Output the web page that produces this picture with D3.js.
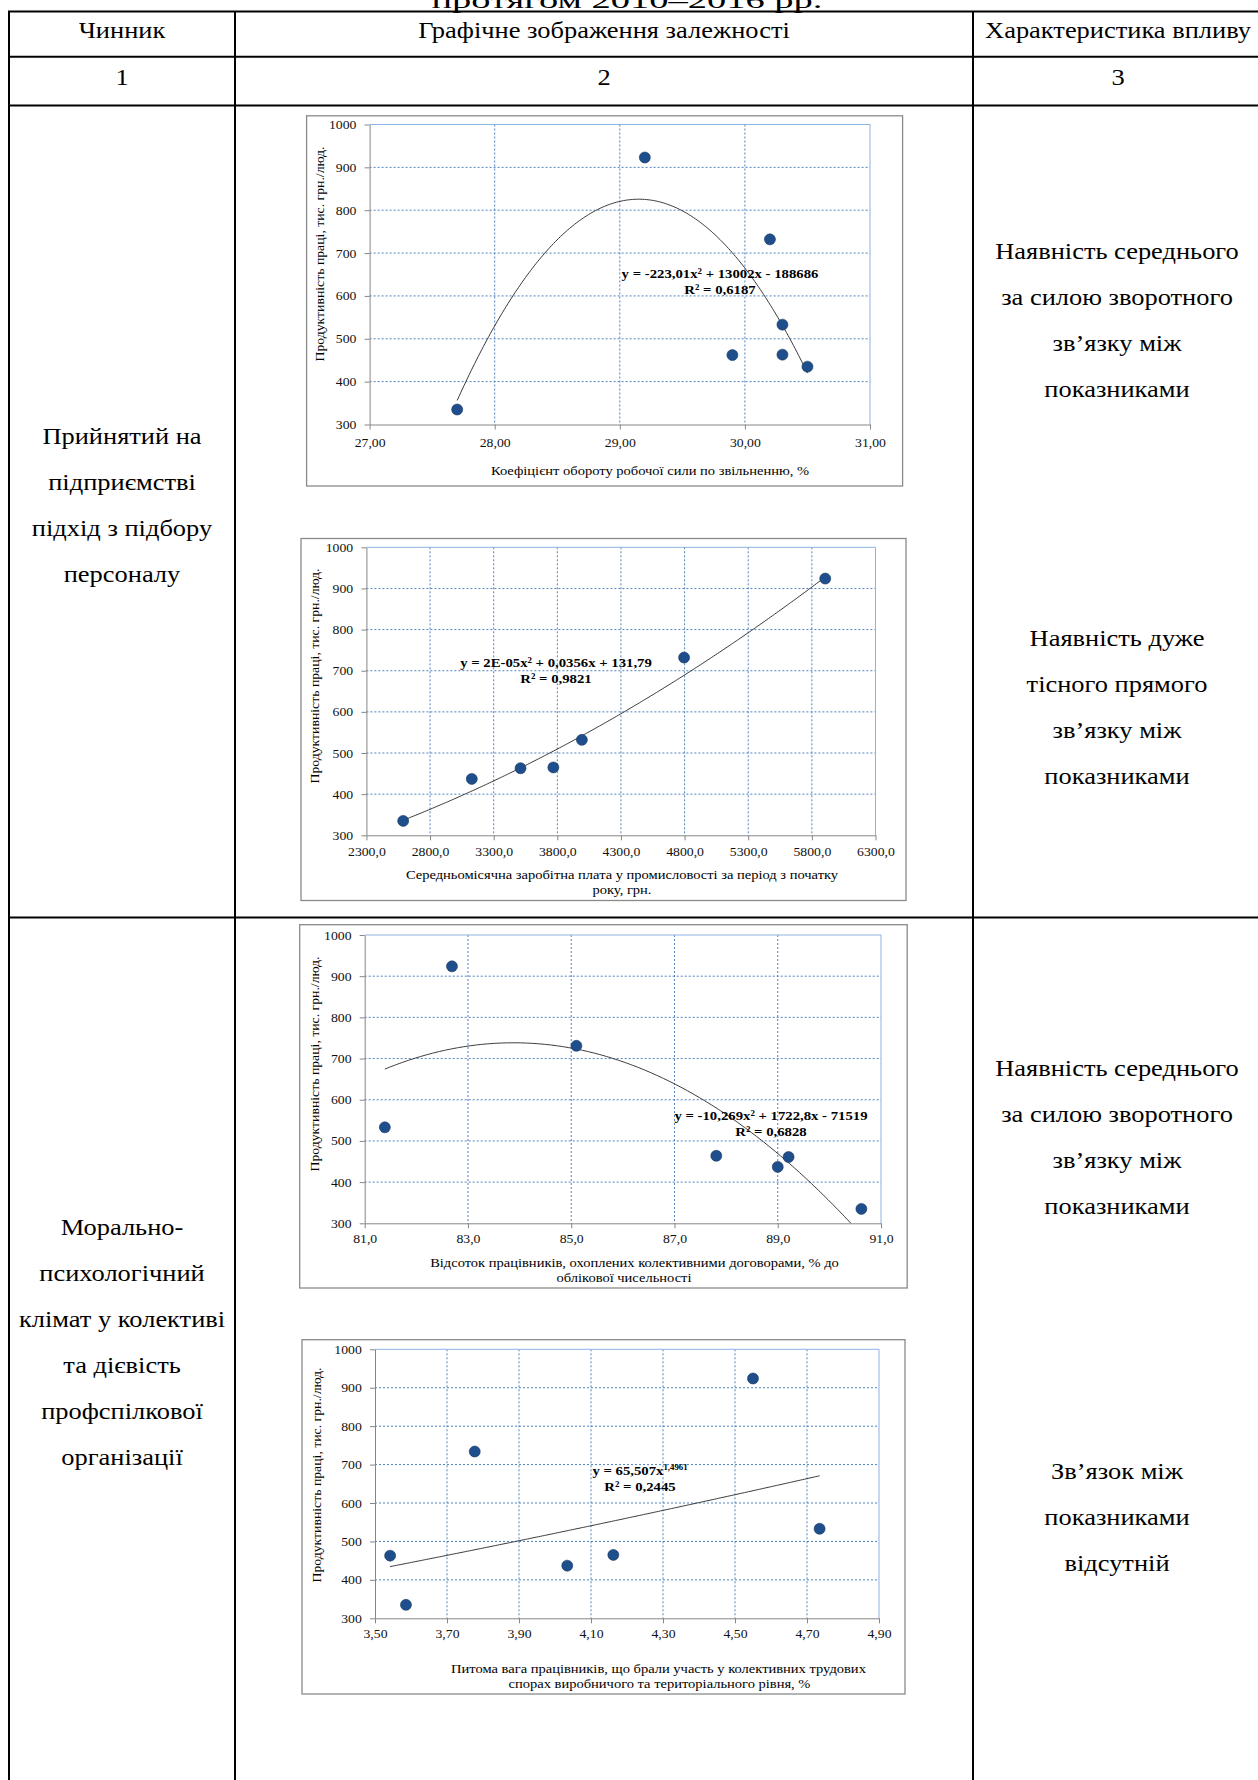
<!DOCTYPE html>
<html>
<head>
<meta charset="utf-8">
<script src="https://cdn.jsdelivr.net/npm/d3@7"></script>
<style>
  body { margin: 0; background: #fff; }
  svg { display: block; }
  text { font-family: "Liberation Serif", "Times New Roman", serif; }
</style>
</head>
<body>
<svg id="page" width="1258" height="1780"></svg>
<script>
// ---------- table text ----------
const pageTitle = "протягом 2010–2016 рр.";
const headerLabels = ["Чинник", "Графічне зображення залежності", "Характеристика впливу"];
const columnNumbers = ["1", "2", "3"];
const factorLines = [
  ["Прийнятий на", "підприємстві", "підхід з підбору", "персоналу"],
  ["Морально-", "психологічний", "клімат у колективі", "та дієвість", "профспілкової", "організації"]
];
const effectLines = [
  ["Наявність середнього", "за силою зворотного", "зв’язку між", "показниками"],
  ["Наявність дуже", "тісного прямого", "зв’язку між", "показниками"],
  ["Наявність середнього", "за силою зворотного", "зв’язку між", "показниками"],
  ["Зв’язок між", "показниками", "відсутній"]
];

// ---------- chart data ----------
const yAxisTitle = "Продуктивність праці, тис. грн./люд.";
const yTicks = [300, 400, 500, 600, 700, 800, 900, 1000];

// labour turnover on dismissal, %
const turnoverX = [27.70, 29.20, 30.20, 29.90, 30.30, 30.30, 30.50];
const turnoverY = [335, 923, 732, 462, 533, 463, 435];
const turnoverTicks = [27, 28, 29, 30, 31];
const turnoverTitle = ["Коефіцієнт обороту робочої сили по звільненню, %"];
const turnoverEq = ["y = -223,01x² + 13002x - 188686", "R² = 0,6187"];
const turnoverPoly = [-223.01, 13002, -188686];

// average monthly wage, UAH
const wageX = [2589, 3128, 3511, 3769, 3993, 4796, 5905];
const wageY = [335, 437, 463, 465, 532, 732, 924];
const wageTicks = [2300, 2800, 3300, 3800, 4300, 4800, 5300, 5800, 6300];
const wageTitle = ["Середньомісячна заробітна плата у промисловості за період з початку", "року, грн."];
const wageEq = ["y = 2E-05x² + 0,0356x + 131,79", "R² = 0,9821"];
const wagePoly = [1.68e-5, 0.0356, 131.79];

// share covered by collective agreements, %
const coverageX = [81.39, 82.69, 85.10, 87.81, 89.00, 89.21, 90.62];
const coverageY = [533, 924, 731, 464, 437, 461, 335];
const coverageTicks = [81, 83, 85, 87, 89, 91];
const coverageTitle = ["Відсоток працівників, охоплених колективними договорами, % до", "облікової чисельності"];
const coverageEq = ["y = -10,269x² + 1722,8x - 71519", "R² = 0,6828"];
const coveragePoly = [-10.269, 1722.8, -71519];

// share involved in labour disputes, %
const disputesX = [3.542, 3.586, 3.777, 4.034, 4.162, 4.550, 4.735];
const disputesY = [463, 335, 734, 437, 465, 924, 533];
const disputesTicks = [3.5, 3.7, 3.9, 4.1, 4.3, 4.5, 4.7, 4.9];
const disputesTitle = ["Питома вага працівників, що брали участь у колективних трудових", "спорах виробничого та територіального рівня, %"];
const disputesEq = ["y = 65,507x", "1,4961", "R² = 0,2445"];
const disputesPow = [65.507, 1.4961];

// ---------- helpers ----------
const svg = d3.select("#page");
const comma = f => d => d3.format(f)(d).replace(".", ",");

function label(parent, str, x, y, o = {}) {
  return parent.append("text")
    .attr("transform", `translate(${x},${y})` + (o.rotate ? ` rotate(${o.rotate})` : "") + ` scale(${o.sx || 1},1)`)
    .attr("text-anchor", o.anchor || "middle")
    .attr("font-size", o.size || 13)
    .attr("font-weight", o.weight || null)
    .attr("fill", o.fill || "#000")
    .text(str);
}

// ---------- table ----------
const colX = [9, 235, 973, 1258];
const rowY = [11.4, 56.8, 105.6, 917.4];
const table = svg.append("g");

label(table, pageTitle, 627, 8, { size: 23, sx: 1.15 })
  .attr("textLength", 340).attr("lengthAdjust", "spacingAndGlyphs");

rowY.forEach(yv => table.append("line").attr("x1", colX[0] - 1).attr("x2", 1258).attr("y1", yv).attr("y2", yv)
  .attr("stroke", "#000").attr("stroke-width", 2));
colX.slice(0, 3).forEach(xv => table.append("line").attr("x1", xv).attr("x2", xv).attr("y1", rowY[0]).attr("y2", 1780)
  .attr("stroke", "#000").attr("stroke-width", 2));

const colCenters = [122, 604, 1118];
const cellText = { size: 23, sx: 1.15 };
headerLabels.forEach((t, i) => label(table, t, colCenters[i], 38, cellText));
columnNumbers.forEach((t, i) => label(table, t, colCenters[i], 85, cellText));

const lineGap = 46;
const factorStart = [444, 1235];
factorLines.forEach((lines, b) => lines.forEach((t, i) =>
  label(table, t, colCenters[0], factorStart[b] + i * lineGap, cellText)));
const effectStart = [259, 646, 1076, 1479];
effectLines.forEach((lines, b) => lines.forEach((t, i) =>
  label(table, t, 1117, effectStart[b] + i * lineGap, cellText)));

// ---------- scatter charts ----------
function scatter(spec, idx) {
  const g = svg.append("g");
  const { box, plot } = spec;
  const x = d3.scaleLinear().domain(d3.extent(spec.xTicks)).range([plot.x0, plot.x1]);
  const y = d3.scaleLinear().domain([300, 1000]).range([plot.y1, plot.y0]);

  g.append("rect").attr("x", box.x0).attr("y", box.y0)
    .attr("width", box.x1 - box.x0).attr("height", box.y1 - box.y0)
    .attr("fill", "#fff").attr("stroke", "#8a8a8a").attr("stroke-width", 1.3);

  // dashed gridlines
  g.selectAll(null).data(yTicks.slice(1, -1)).join("line")
    .attr("x1", plot.x0).attr("x2", plot.x1).attr("y1", d => y(d)).attr("y2", d => y(d))
    .attr("stroke", "#4f81bd").attr("stroke-width", 1).attr("stroke-dasharray", "2,2");
  g.selectAll(null).data(spec.xTicks.slice(1, -1)).join("line")
    .attr("x1", d => x(d)).attr("x2", d => x(d)).attr("y1", plot.y0).attr("y2", plot.y1)
    .attr("stroke", "#4f81bd").attr("stroke-width", 1).attr("stroke-dasharray", "2,2");
  // plot-area border (top and right)
  g.append("path").attr("d", `M${plot.x0},${plot.y0}H${plot.x1}V${plot.y1}`)
    .attr("fill", "none").attr("stroke", "#8db3e2").attr("stroke-width", 1);

  const styleAxis = s => {
    s.attr("font-family", null).attr("font-size", null);
    s.select(".domain").attr("stroke", "#868686");
    s.selectAll(".tick line").attr("stroke", "#868686");
    s.selectAll(".tick text").attr("fill", "#111").attr("font-size", 12.5).attr("transform", "scale(1.1,1)");
  };
  g.append("g").attr("transform", `translate(0,${plot.y1})`)
    .call(d3.axisBottom(x).tickValues(spec.xTicks).tickFormat(spec.fmt).tickSize(5).tickSizeOuter(0).tickPadding(spec.pad))
    .call(styleAxis);
  g.append("g").attr("transform", `translate(${plot.x0},0)`)
    .call(d3.axisLeft(y).tickValues(yTicks).tickFormat(d3.format("d")).tickSize(5).tickSizeOuter(0).tickPadding(7))
    .call(styleAxis);

  // trendline, clipped to the plot area
  const clipId = "plot-clip-" + idx;
  g.append("clipPath").attr("id", clipId).append("rect")
    .attr("x", plot.x0).attr("y", plot.y0).attr("width", plot.x1 - plot.x0).attr("height", plot.y1 - plot.y0);
  const [lo, hi] = d3.extent(spec.xs);
  const samples = d3.range(0, 201).map(i => lo + (hi - lo) * i / 200);
  g.append("path")
    .datum(samples.map(v => [v, spec.trend(v)]))
    .attr("clip-path", `url(#${clipId})`)
    .attr("d", d3.line().x(d => x(d[0])).y(d => y(d[1])))
    .attr("fill", "none").attr("stroke", "#3a3a3a").attr("stroke-width", 1);

  // points
  g.selectAll(null).data(d3.zip(spec.xs, spec.ys)).join("circle")
    .attr("cx", d => x(d[0])).attr("cy", d => y(d[1])).attr("r", 5.5)
    .attr("fill", "#1f4e8c").attr("stroke", "#17375e").attr("stroke-width", 0.6);

  // axis titles
  label(g, yAxisTitle, spec.yTitle[0], spec.yTitle[1], { size: 12.5, sx: 1.1, rotate: -90 });
  spec.xTitle.forEach((t, i) => label(g, t, spec.xTitlePos[i][0], spec.xTitlePos[i][1], { size: 13.2, sx: 1.1 }));

  // regression equation
  spec.drawEq(g);
}

const quad = c => v => c[0] * v * v + c[1] * v + c[2];
const eqBlock = (lines, cx, y0) => g => lines.forEach((t, i) =>
  label(g, t, cx, y0 + i * 16, { size: 13.4, sx: 1.1, weight: "bold" }));

const charts = [
  {
    box: { x0: 306.6, y0: 115.8, x1: 902.6, y1: 486 },
    plot: { x0: 369.6, y0: 124.5, x1: 870, y1: 424.5 },
    xTicks: turnoverTicks, fmt: comma(".2f"), pad: 8.5,
    xs: turnoverX, ys: turnoverY, trend: quad(turnoverPoly),
    yTitle: [324, 254], xTitle: turnoverTitle, xTitlePos: [[650, 475]],
    drawEq: eqBlock(turnoverEq, 720, 278)
  },
  {
    box: { x0: 301, y0: 538.5, x1: 906, y1: 900.5 },
    plot: { x0: 366.4, y0: 547.3, x1: 875.5, y1: 835.3 },
    xTicks: wageTicks, fmt: comma(".1f"), pad: 7,
    xs: wageX, ys: wageY, trend: quad(wagePoly),
    yTitle: [319, 676], xTitle: wageTitle, xTitlePos: [[622, 879], [622, 894]],
    drawEq: eqBlock(wageEq, 556, 666.5)
  },
  {
    box: { x0: 299.7, y0: 924.7, x1: 907.2, y1: 1288 },
    plot: { x0: 364.7, y0: 935, x1: 881, y1: 1223.3 },
    xTicks: coverageTicks, fmt: comma(".1f"), pad: 6,
    xs: coverageX, ys: coverageY, trend: quad(coveragePoly),
    yTitle: [318.5, 1064], xTitle: coverageTitle, xTitlePos: [[634.5, 1266.5], [624, 1281.5]],
    drawEq: eqBlock(coverageEq, 771, 1119.5)
  },
  {
    box: { x0: 302, y0: 1339.7, x1: 905, y1: 1694 },
    plot: { x0: 375, y0: 1349.3, x1: 879, y1: 1618.3 },
    xTicks: disputesTicks, fmt: comma(".2f"), pad: 6,
    xs: disputesX, ys: disputesY, trend: v => disputesPow[0] * Math.pow(v, disputesPow[1]),
    yTitle: [320.5, 1475], xTitle: disputesTitle, xTitlePos: [[658.5, 1673], [659.5, 1688]],
    drawEq: g => {
      const t = label(g, disputesEq[0], 640, 1475, { size: 13.4, sx: 1.1, weight: "bold" });
      t.append("tspan").attr("font-size", 8).attr("dy", -5).text(disputesEq[1]);
      label(g, disputesEq[2], 640, 1491, { size: 13.4, sx: 1.1, weight: "bold" });
    }
  }
];
charts.forEach(scatter);
</script>
</body>
</html>
